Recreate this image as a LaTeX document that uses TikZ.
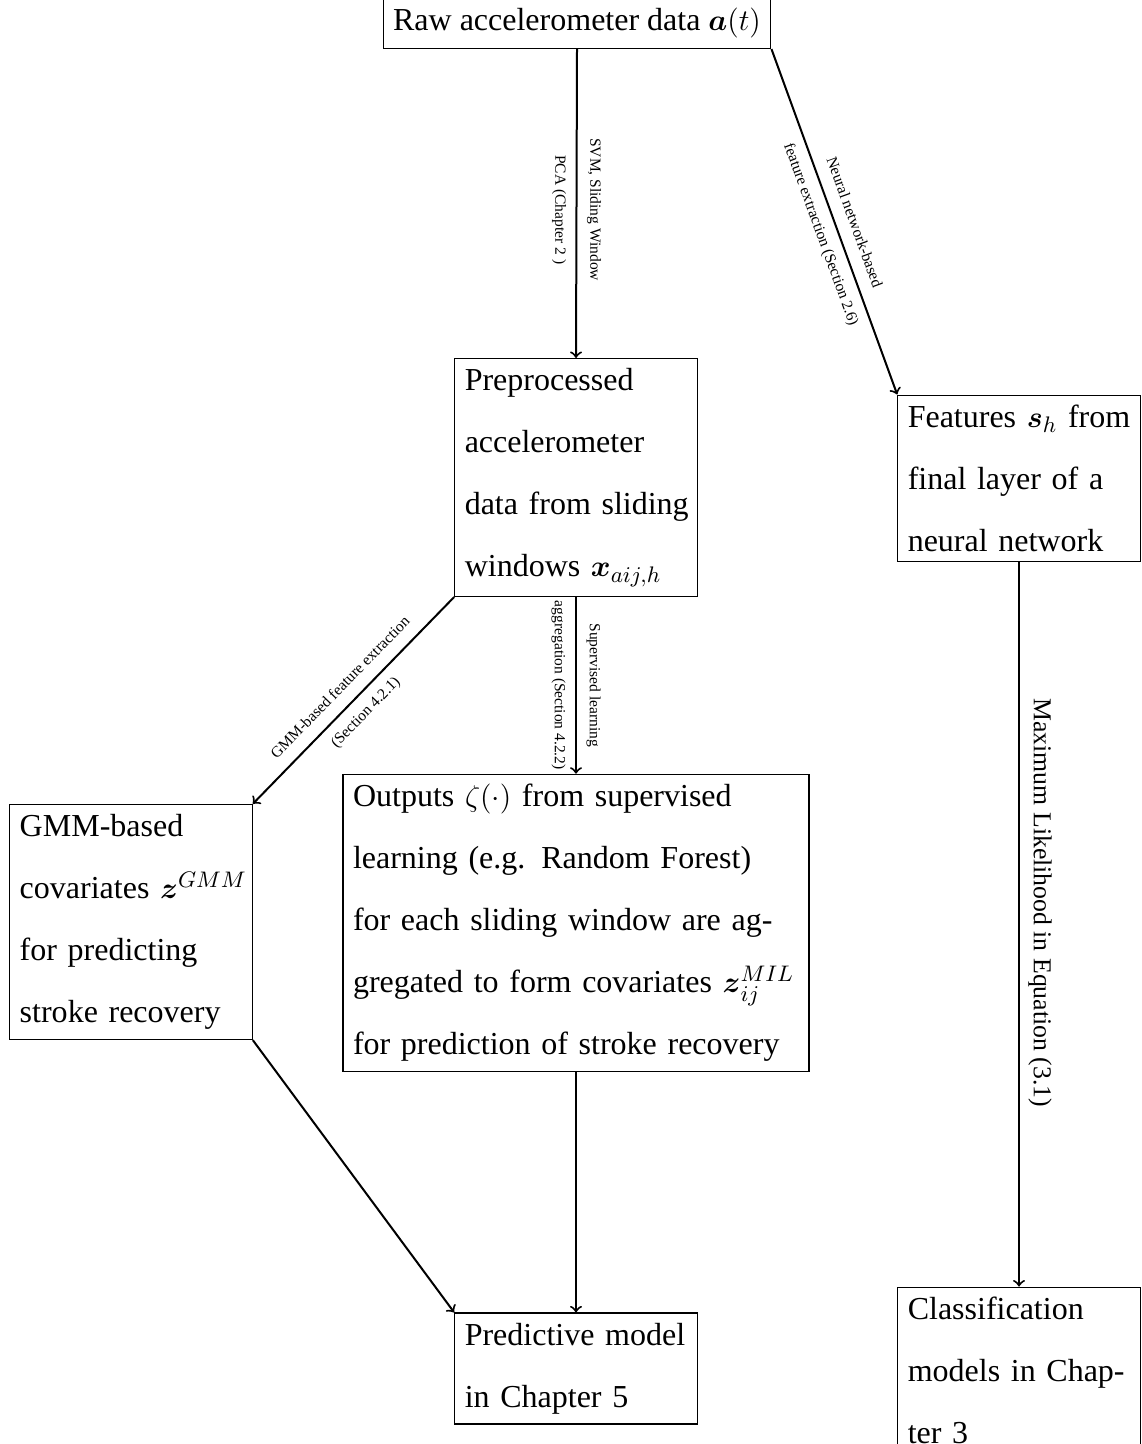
\documentclass[tikz,border=0pt]{standalone}
\usepackage{amsmath}
\usepackage{fontspec}
\setmainfont{Liberation Serif}
\begin{document}
\begin{tikzpicture}[x=0.4pt,y=-0.4pt,
  box/.style={draw=black, line width=0.45pt, inner sep=4pt, font=\fontsize{12.8}{24.8}\selectfont},
  narrowbox/.style={box, text width=89pt, align=left},
  widebox/.style={box, text width=178.4pt, align=left},
  conn/.style={->, line width=0.8pt},
  lbl/.style={font=\fontsize{6.2}{14}\selectfont, align=center, inner sep=1pt},
  biglbl/.style={font=\fontsize{10.3}{12}\selectfont}
]
\useasboundingbox (0,0) rectangle (1141,1444);

\node[box] (raw) at (577,23.5) {Raw accelerometer data $\boldsymbol{a}(t)$};
\node[narrowbox] (pre) at (576,477.5) {\mbox{Preprocessed}\\\mbox{accelerometer}\\\mbox{data from sliding}\\\mbox{windows $\boldsymbol{x}_{aij,h}$}};
\node[narrowbox] (feat) at (1019,478.5) {\mbox{Features $\boldsymbol{s}_h$ from}\\\mbox{final layer of a}\\\mbox{neural network}};
\node[narrowbox] (gmm) at (131,922) {\mbox{GMM-based}\\\mbox{covariates $\boldsymbol{z}^{GMM}$}\\\mbox{for predicting}\\\mbox{stroke recovery}};
\node[widebox] (out) at (576,923) {\mbox{Outputs $\zeta(\cdot)$ from supervised}\\\mbox{learning (e.g. Random Forest)}\\\mbox{for each sliding window are ag-}\\\mbox{gregated to form covariates $\boldsymbol{z}_{ij}^{MIL}$}\\\mbox{for prediction of stroke recovery}};
\node[narrowbox] (pred) at (576,1368.5) {\mbox{Predictive model}\\\mbox{in Chapter 5}};
\node[narrowbox] (cls) at (1019,1370.5) {\mbox{Classification}\\\mbox{models in Chap-}\\\mbox{ter 3}};

\draw[conn] (raw.south) -- node[lbl, rotate=-90, pos=0.52] {SVM, Sliding Window\\PCA (Chapter 2 )} (pre.north);
\draw[conn] (raw.south east) -- node[lbl, sloped, pos=0.52] {Neural network-based\\feature extraction (Section 2.6)} (feat.north west);
\draw[conn] (pre.south west) -- node[lbl, sloped] {GMM-based feature extraction\\(Section 4.2.1)} (gmm.north east);
\draw[conn] (pre.south) -- node[lbl, rotate=-90] {Supervised learning\\aggregation (Section 4.2.2)} (out.north);
\draw[conn] (feat.south) -- node[biglbl, rotate=-90, anchor=south, pos=0.47] {Maximum Likelihood in Equation (3.1)} (cls.north);
\draw[conn] (gmm.south east) -- (pred.north west);
\draw[conn] (out.south) -- (pred.north);
\end{tikzpicture}
\end{document}
